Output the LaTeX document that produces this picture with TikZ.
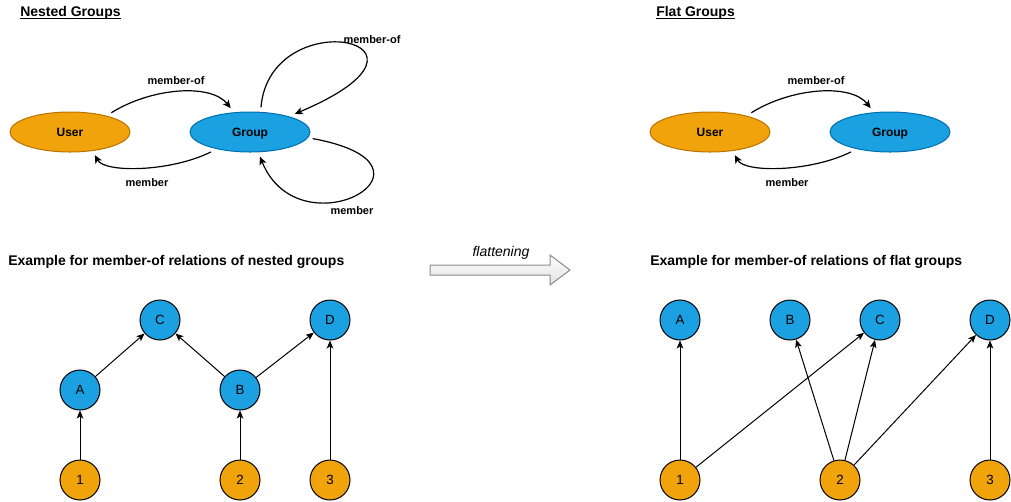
\documentclass[tikz,border=0pt]{standalone}
\usepackage{fontspec}
\setmainfont{Liberation Sans}
\usetikzlibrary{arrows.meta,shapes.geometric}
\definecolor{grpblue}{HTML}{1BA1E2}
\definecolor{grpline}{HTML}{006EAF}
\definecolor{usrorange}{HTML}{F0A30A}
\definecolor{usrline}{HTML}{BD7000}
\tikzset{
	ent/.style={ellipse, minimum width=90pt, minimum height=30pt, inner sep=0pt, outer sep=3.75pt, line width=0.75pt, text height=6.45pt, text depth=0pt, font=\fontsize{9}{10}\selectfont\bfseries},
	usr/.style={ent, fill=usrorange, draw=usrline},
	grp/.style={ent, fill=grpblue, draw=grpline},
	vtx/.style={circle, minimum size=30pt, inner sep=0pt, line width=0.75pt, draw=black, text height=7.2pt, text depth=0pt, font=\fontsize{10}{11}\selectfont},
	gvtx/.style={vtx, fill=grpblue},
	uvtx/.style={vtx, fill=usrorange},
	rel/.style={line width=0.9pt, -{Stealth[length=6pt, width=5.5pt, inset=1.5pt]}},
	lnk/.style={line width=0.75pt, -{Stealth[length=6pt, width=5pt, inset=1.5pt]}},
	lbl/.style={inner sep=0pt, font=\fontsize{8.25}{9}\selectfont\bfseries},
	ttl/.style={anchor=base west, inner sep=0pt, font=\fontsize{10.5}{12}\selectfont\bfseries},
	flatarrow/.style={top color=white, bottom color=black!12, draw=black!45, line width=0.75pt}
}

\begin{document}
\begin{tikzpicture}[x=0.75pt, y=-0.75pt]
			%%%%% START %%%%%
			
			\useasboundingbox (0,0) rectangle (1011,501);
			
			\node[ttl] (tNested) at (20,16) {\underline{\smash{Nested Groups}}};
			\node[ttl] (tFlat) at (656,16) {\underline{\smash{Flat Groups}}};
			\node[ttl] (tNestedEx) at (8,265) {Example for member-of relations of nested groups};
			\node[ttl] (tFlatEx) at (650,265) {Example for member-of relations of flat groups};
			
			%%%%% nested groups %%%%%
			
			\node[usr] (nUsr) at (70,132) {User};
			\node[grp] (nGrp) at (250,132) {Group};
			
			\draw[rel] (nUsr.25) .. controls +(40,-25) and +(-20,-25) .. (nGrp.129);
			\draw[rel] (nGrp.-153) .. controls +(-40,20) and +(10,18) .. (nUsr.-43);
			\draw[rel] (nGrp.66) .. controls +(9,-107) and +(173,-73) .. (nGrp.22);
			\draw[rel] (nGrp.-6) .. controls +(147,27) and +(40,98) .. (nGrp.-68);
			
			\node[lbl] (lnUsrOf) at (176,81) {member-of};
			\node[lbl] (lnUsr) at (147,183) {member};
			\node[lbl] (lnGrpOf) at (372,40) {member-of};
			\node[lbl] (lnGrp) at (352,211) {member};
			
			%%%%% flat groups %%%%%
			
			\node[usr] (fUsr) at (710,132) {User};
			\node[grp] (fGrp) at (890,132) {Group};
			
			\draw[rel] (fUsr.25) .. controls +(40,-25) and +(-20,-25) .. (fGrp.129);
			\draw[rel] (fGrp.-153) .. controls +(-40,20) and +(10,18) .. (fUsr.-43);
			
			\node[lbl] (lfUsrOf) at (816,81) {member-of};
			\node[lbl] (lfUsr) at (787,183) {member};
			
			%%%%% flattening %%%%%
			
			\draw[flatarrow] (430,265) -- (550,265) -- (550,255) -- (570,270) -- (550,285) -- (550,275) -- (430,275) -- cycle;
			\node[inner sep=0pt, font=\fontsize{10.5}{12}\selectfont\itshape] (tFlatten) at (501,253) {flattening};
			
			%%%%% nested example %%%%%
			
			\node[gvtx] (nC) at (160,320) {C};
			\node[gvtx] (nD) at (330,320) {D};
			\node[gvtx] (nA) at (80,390) {A};
			\node[gvtx] (nB) at (240,390) {B};
			\node[uvtx] (n1) at (80,480) {1};
			\node[uvtx] (n2) at (240,480) {2};
			\node[uvtx] (n3) at (330,480) {3};
			
			\draw[lnk] (nA) -- (nC);
			\draw[lnk] (nB) -- (nC);
			\draw[lnk] (nB) -- (nD);
			\draw[lnk] (n1) -- (nA);
			\draw[lnk] (n2) -- (nB);
			\draw[lnk] (n3) -- (nD);
			
			%%%%% flat example %%%%%
			
			\node[gvtx] (fA) at (680,320) {A};
			\node[gvtx] (fB) at (790,320) {B};
			\node[gvtx] (fC) at (880,320) {C};
			\node[gvtx] (fD) at (990,320) {D};
			\node[uvtx] (f1) at (680,480) {1};
			\node[uvtx] (f2) at (840,480) {2};
			\node[uvtx] (f3) at (990,480) {3};
			
			\draw[lnk] (f1) -- (fA);
			\draw[lnk] (f1) -- (fC);
			\draw[lnk] (f2) -- (fB);
			\draw[lnk] (f2) -- (fC);
			\draw[lnk] (f2) -- (fD);
			\draw[lnk] (f3) -- (fD);
			
			%%%%% END %%%%%
\end{tikzpicture}
\end{document}
